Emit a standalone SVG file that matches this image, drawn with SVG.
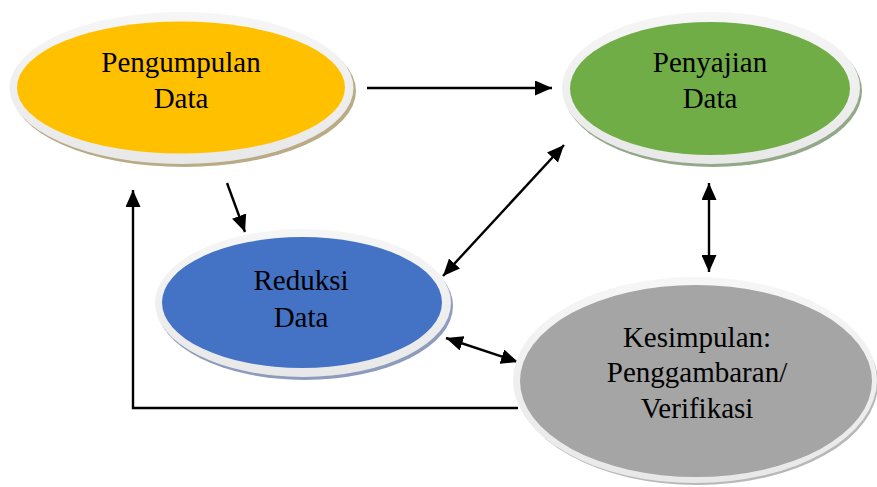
<svg xmlns="http://www.w3.org/2000/svg" width="877" height="487" viewBox="0 0 877 487">
<style>
.lbl{font-family:"Liberation Serif","Times New Roman",serif;font-size:29px;fill:#000;text-anchor:middle}
.rim{fill:url(#rimg)}
.con{stroke:#000;stroke-width:2.4;fill:none}
</style>
<defs>
<linearGradient id="rimg" x1="0" y1="0" x2="0" y2="1">
<stop offset="0" stop-color="#f6f6f6"/>
<stop offset="1" stop-color="#e8e8e8"/>
</linearGradient>
<marker id="ah" viewBox="0 0 17 15" refX="17" refY="7.5" markerWidth="17" markerHeight="15" markerUnits="userSpaceOnUse" orient="auto-start-reverse">
<path d="M0,0 L17,7.5 L0,15 Z" fill="#000"/>
</marker>
</defs>
<rect width="877" height="487" fill="#fff"/>
<g id="connectors">
<line class="con" x1="367" y1="88" x2="552" y2="88" marker-end="url(#ah)"/>
<line class="con" x1="227" y1="183" x2="245" y2="232" marker-end="url(#ah)"/>
<line class="con" x1="443" y1="276" x2="564" y2="145" marker-start="url(#ah)" marker-end="url(#ah)"/>
<line class="con" x1="709" y1="183" x2="709" y2="272" marker-start="url(#ah)" marker-end="url(#ah)"/>
<line class="con" x1="446" y1="338" x2="518" y2="362" marker-start="url(#ah)" marker-end="url(#ah)"/>
<polyline class="con" points="518,408 133,408 133,190" marker-end="url(#ah)"/>
</g>
<g id="pengumpulan">
<ellipse cx="184" cy="91" rx="172" ry="76" fill="#b9ab86"/>
<ellipse class="rim" cx="181.5" cy="88" rx="172" ry="76"/>
<ellipse cx="181" cy="87.5" rx="164" ry="66" fill="#ffc000"/>
<text class="lbl" x="181" y="72">Pengumpulan</text>
<text class="lbl" x="181" y="108">Data</text>
</g>
<g id="penyajian">
<ellipse cx="713" cy="91" rx="149" ry="76" fill="#93a889"/>
<ellipse class="rim" cx="711" cy="88" rx="149" ry="76"/>
<ellipse cx="710" cy="88.5" rx="140" ry="66.5" fill="#70ad47"/>
<text class="lbl" x="710" y="72">Penyajian</text>
<text class="lbl" x="710" y="108">Data</text>
</g>
<g id="reduksi">
<ellipse cx="305" cy="306" rx="148" ry="74" fill="#8d9bbd"/>
<ellipse class="rim" cx="303" cy="303" rx="148" ry="74"/>
<ellipse cx="302" cy="302.5" rx="140" ry="65.5" fill="#4472c4"/>
<text class="lbl" x="301" y="290">Reduksi</text>
<text class="lbl" x="301" y="327">Data</text>
</g>
<g id="kesimpulan">
<ellipse cx="697" cy="383" rx="181" ry="102" fill="#b8b8b8"/>
<ellipse class="rim" cx="695" cy="380" rx="182" ry="103"/>
<ellipse cx="696" cy="381" rx="176" ry="96" fill="#a5a5a5"/>
<text class="lbl" x="697" y="347">Kesimpulan:</text>
<text class="lbl" x="697" y="382">Penggambaran/</text>
<text class="lbl" x="697" y="418">Verifikasi</text>
</g>
</svg>
